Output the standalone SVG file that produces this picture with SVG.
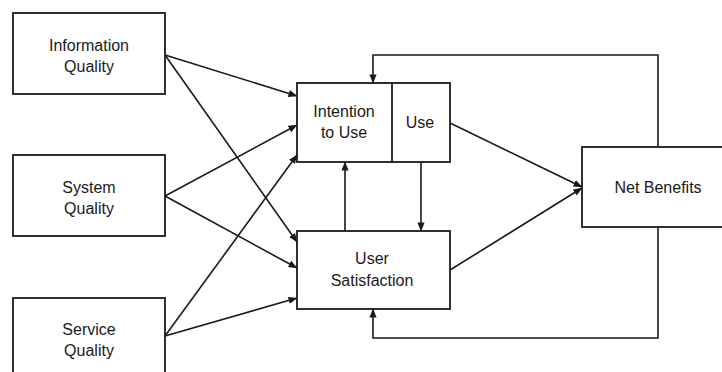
<svg xmlns="http://www.w3.org/2000/svg" width="722" height="372" viewBox="0 0 722 372">
<style>
.box{fill:#fff;stroke:#1a1a1a;stroke-width:1.8}
.t{font-family:"Liberation Sans",Arial,sans-serif;font-size:16px;fill:#1a1a1a;text-anchor:middle}
.c{fill:none;stroke:#1a1a1a;stroke-width:1.6}
</style>
<defs>
<marker id="ah" viewBox="0 0 10 10" refX="9.5" refY="5" markerWidth="9" markerHeight="9" markerUnits="userSpaceOnUse" orient="auto">
<path d="M0,1 L10,5 L0,9 Z" fill="#1a1a1a"/>
</marker>
</defs>
<rect width="722" height="372" fill="#fff"/>
<g id="connectors">
<line class="c" x1="165" y1="55" x2="297" y2="96" marker-end="url(#ah)"/>
<line class="c" x1="165" y1="55" x2="297" y2="242" marker-end="url(#ah)"/>
<line class="c" x1="165" y1="196" x2="297" y2="125" marker-end="url(#ah)"/>
<line class="c" x1="165" y1="196" x2="297" y2="268" marker-end="url(#ah)"/>
<line class="c" x1="165" y1="336" x2="297" y2="155" marker-end="url(#ah)"/>
<line class="c" x1="165" y1="336" x2="297" y2="298" marker-end="url(#ah)"/>
<line class="c" x1="345" y1="231" x2="345" y2="162" marker-end="url(#ah)"/>
<line class="c" x1="421" y1="162" x2="421" y2="231" marker-end="url(#ah)"/>
<line class="c" x1="450" y1="123" x2="582" y2="187" marker-end="url(#ah)"/>
<line class="c" x1="450" y1="270" x2="582" y2="188" marker-end="url(#ah)"/>
<polyline class="c" points="658,147 658,55 373,55 373,83" marker-end="url(#ah)"/>
<polyline class="c" points="658,227 658,338 373,338 373,309" marker-end="url(#ah)"/>
</g>
<g id="information-quality">
<rect class="box" x="13" y="13" width="152" height="81"/>
<text class="t" x="89" y="51">Information</text>
<text class="t" x="89" y="72">Quality</text>
</g>
<g id="system-quality">
<rect class="box" x="13" y="155" width="152" height="81"/>
<text class="t" x="89" y="193">System</text>
<text class="t" x="89" y="214">Quality</text>
</g>
<g id="service-quality">
<rect class="box" x="13" y="298" width="152" height="81"/>
<text class="t" x="89" y="335">Service</text>
<text class="t" x="89" y="356">Quality</text>
</g>
<g id="intention-use">
<rect class="box" x="297" y="83" width="153" height="79"/>
<line class="box" x1="392" y1="83" x2="392" y2="162"/>
<text class="t" x="344" y="117">Intention</text>
<text class="t" x="344" y="138">to Use</text>
<text class="t" x="420" y="128">Use</text>
</g>
<g id="user-satisfaction">
<rect class="box" x="297" y="231" width="153" height="78"/>
<text class="t" x="372" y="264">User</text>
<text class="t" x="372" y="286">Satisfaction</text>
</g>
<g id="net-benefits">
<rect class="box" x="582" y="147" width="145" height="80"/>
<text class="t" x="658" y="193">Net Benefits</text>
</g>
</svg>
